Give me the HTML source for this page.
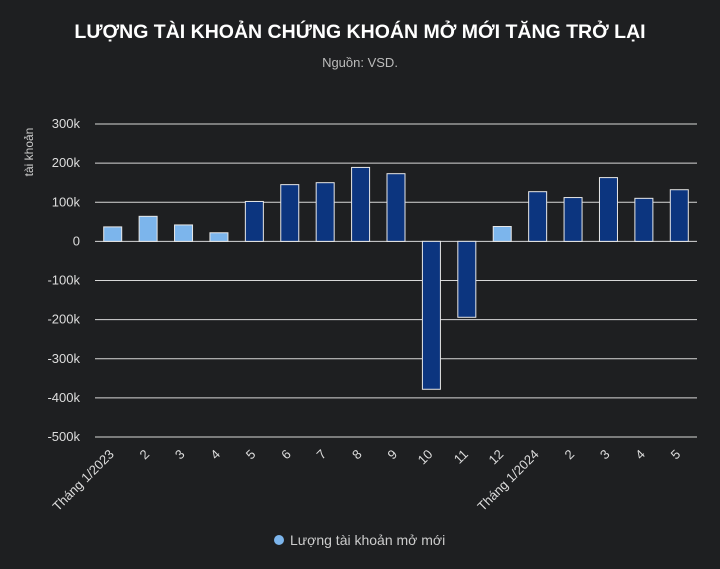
<!DOCTYPE html>
<html><head><meta charset="utf-8"><style>
body{margin:0;background:#1e1f21;}
svg{display:block;font-family:"Liberation Sans",sans-serif;}
</style></head><body>
<svg id="c" width="720" height="569" xmlns="http://www.w3.org/2000/svg">
<rect width="720" height="569" fill="#1e1f21"/>
<text x="360" y="38" text-anchor="middle" fill="#fff" font-size="19.5" font-weight="bold">LƯỢNG TÀI KHOẢN CHỨNG KHOÁN MỞ MỚI TĂNG TRỞ LẠI</text>
<text x="360" y="67" text-anchor="middle" fill="#bbb" font-size="13">Nguồn: VSD.</text>
<text transform="translate(33,152) rotate(-90)" text-anchor="middle" fill="#ccc" font-size="12">tài khoản</text>
<g id="grid"></g><g id="bars"></g><g id="xl"></g>
<circle cx="279" cy="540" r="5" fill="#7cb5ec"/>
<text x="290" y="545" fill="#ccc" font-size="14">Lượng tài khoản mở mới</text>
</svg>
<script>
const categories=["Tháng 1/2023","2","3","4","5","6","7","8","9","10","11","12","Tháng 1/2024","2","3","4","5"];
const values=[37000,64000,42000,22000,102000,145000,150000,189000,173000,-378000,-194000,38000,127000,112000,163000,110000,132000];
const highlight=[1,1,1,1,0,0,0,0,0,0,0,1,0,0,0,0,0];
const yTicks=[300000,200000,100000,0,-100000,-200000,-300000,-400000,-500000];
const yTickLabels=["300k","200k","100k","0","-100k","-200k","-300k","-400k","-500k"];
const NS="http://www.w3.org/2000/svg";
const x0=95,x1=697,yTop=124,yBot=437,vMax=300000,vMin=-500000;
const y=v=>yTop+(vMax-v)/(vMax-vMin)*(yBot-yTop);
const bw=(x1-x0)/categories.length;
const xc=i=>x0+bw*(i+0.5);
function mk(t,a,p){const e=document.createElementNS(NS,t);for(const k in a)e.setAttribute(k,a[k]);document.getElementById(p).appendChild(e);return e;}
yTicks.forEach((t,i)=>{
 const l=mk("line",{x1:x0,x2:x1,y1:y(t),y2:y(t),stroke:"#d8d8d8","stroke-width":1},"grid");
 
 
 const tx=mk("text",{x:80,y:y(t)+4,"text-anchor":"end",fill:"#ddd","font-size":13},"grid");
 tx.textContent=yTickLabels[i];
 
 
});
values.forEach((v,i)=>{
 const w=18,top=Math.min(y(v),y(0)),h=Math.abs(y(v)-y(0));
 const r=mk("rect",{x:xc(i)-w/2,y:top,width:w,height:h,fill:highlight[i]?"#7cb5ec":"#0c357f",stroke:"#e8e8e8","stroke-width":1},"bars");
 
 
 const tx=mk("text",{transform:`translate(${xc(i)+2},455) rotate(-45)`,"text-anchor":"end",fill:"#ddd","font-size":13},"xl");
 tx.textContent=categories[i];
 
 
});
</script>
</body></html>
